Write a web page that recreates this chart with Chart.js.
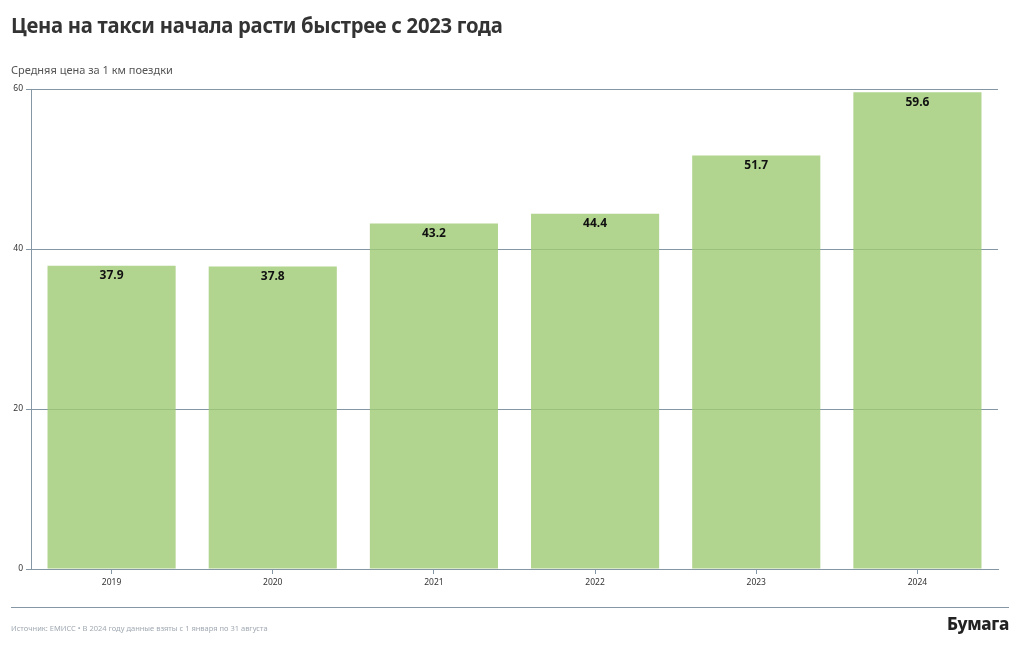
<!DOCTYPE html>
<html><head><meta charset="utf-8">
<script src="https://cdn.jsdelivr.net/npm/chart.js@4"></script>
<style>
html,body{margin:0;padding:0;background:#fff;width:1020px;height:650px;overflow:hidden;font-family:"Noto Sans",sans-serif;}
#wrap{position:absolute;left:0;top:0;width:1020px;height:650px;}
.t{position:absolute;white-space:nowrap;}
#title{left:11px;top:9px;font-size:22px;font-weight:700;color:#333;letter-spacing:-0.3px;transform-origin:left center;transform:scaleX(0.92);}
#sub{left:11px;top:62px;font-size:11px;color:#555;}
#rule{position:absolute;left:11px;top:607px;width:998px;height:1px;background:#8596a4;}
#src{left:11px;top:623px;font-size:7.5px;color:#a0a9b2;}
#logo{right:11px;top:612px;font-size:17px;font-weight:800;color:#222;letter-spacing:-0.3px;}
</style></head>
<body>
<div id="wrap"><canvas id="c" width="1020" height="650"></canvas></div>
<div class="t" id="title">Цена на такси начала расти быстрее с 2023 года</div>
<div class="t" id="sub">Средняя цена за 1 км поездки</div>
<div id="rule"></div>
<div class="t" id="src">Источник: ЕМИСС • В 2024 году данные взяты с 1 января по 31 августа</div>
<div class="t" id="logo">Бумага</div>
<script>
const categories = ["2019","2020","2021","2022","2023","2024"];
const prices = [37.9, 37.8, 43.2, 44.4, 51.7, 59.6];
const yTicks = [0, 20, 40, 60];

const FONT = '"Noto Sans", sans-serif';
const GRID = '#8596a4';

const labelPlugin = {
  id: 'barLabels',
  afterDatasetsDraw(chart) {
    const ctx = chart.ctx;
    const meta = chart.getDatasetMeta(0);
    ctx.save();
    ctx.font = 'bold 12px ' + FONT;
    ctx.fillStyle = '#111';
    ctx.textAlign = 'center';
    ctx.textBaseline = 'middle';
    meta.data.forEach((el, i) => {
      ctx.fillText(prices[i].toFixed(1), el.x, el.y + 10);
    });
    ctx.restore();
  }
};

new Chart(document.getElementById('c'), {
  type: 'bar',
  data: {
    labels: categories,
    datasets: [{
      data: prices,
      backgroundColor: 'rgba(160,203,118,0.82)',
      borderWidth: 0,
      categoryPercentage: 1,
      barPercentage: 0.795
    }]
  },
  options: {
    responsive: false,
    animation: false,
    events: [],
    layout: { padding: { left: 1, top: 89, right: 22, bottom: 61 } },
    plugins: { legend: { display: false }, tooltip: { enabled: false } },
    scales: {
      x: {
        grid: { display: true, drawOnChartArea: false, drawTicks: true, tickLength: 5, offset: false, color: GRID },
        border: { display: true, color: GRID },
        ticks: { font: { family: FONT, size: 8.5 }, color: '#333', padding: 3 },
        afterFit(s) { s.height = 20; }
      },
      y: {
        min: 0, max: 60,
        afterBuildTicks(s) { s.ticks = yTicks.map(v => ({ value: v })); },
        grid: { color: GRID, tickLength: 5, drawTicks: true },
        border: { display: true, color: GRID },
        ticks: { font: { family: FONT, size: 8.5 }, color: '#333', padding: 3 },
        afterFit(s) { s.width = 30; }
      }
    }
  },
  plugins: [labelPlugin]
});
</script>
</body></html>
